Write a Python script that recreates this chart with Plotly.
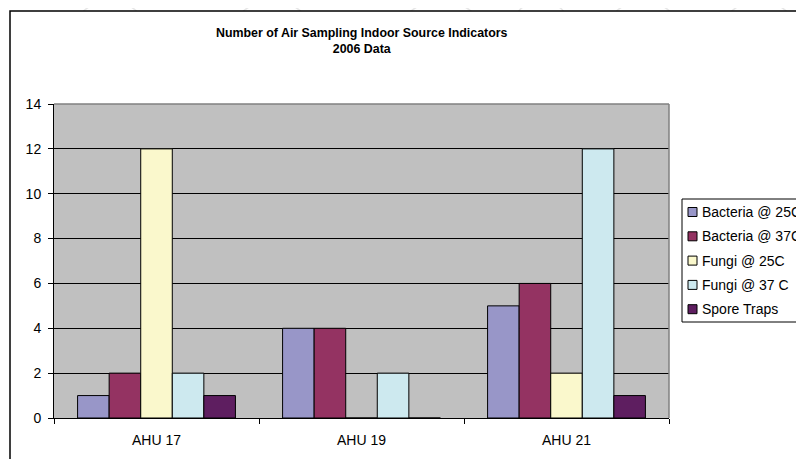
import plotly.graph_objects as go

# ---- data ----
categories = ["AHU 17", "AHU 19", "AHU 21"]
series_names = ["Bacteria @ 25C", "Bacteria @ 37C", "Fungi @ 25C", "Fungi @ 37 C", "Spore Traps"]
bacteria_25 = [1, 4, 5]
bacteria_37 = [2, 4, 6]
fungi_25 = [12, 0, 2]
fungi_37 = [2, 2, 12]
spore_traps = [1, 0, 1]
series_values = [bacteria_25, bacteria_37, fungi_25, fungi_37, spore_traps]
series_colors = ["#9896C8", "#943362", "#FAF8CC", "#CDE9EF", "#5E1E60"]
y_ticks = [0, 2, 4, 6, 8, 10, 12, 14]
title_lines = ["Number of Air Sampling Indoor Source Indicators", "2006 Data"]

# ---- layout geometry (screen pixels of the reference) ----
W, H = 804, 459
OFF = 8  # page body margin
L, R, T, B = 54, 669, 104, 418
PW, PH = R - L, B - T


def px_x(p):
    return (p - L) / PW


def px_y(p):
    return (B - p) / PH


FONT = "Liberation Sans, Arial, sans-serif"

fig = go.Figure()
for name, vals, col in zip(series_names, series_values, series_colors):
    fig.add_trace(go.Bar(
        x=categories, y=vals, name=name,
        marker=dict(color=col, line=dict(color="black", width=1)),
        showlegend=False,
    ))

shapes = []
# faint watermark arcs at the top
for cx, r in [(110, 40), (272, 46), (441, 50), (541, 30), (643, 40), (759, 42)]:
    shapes.append(dict(type="circle", xref="paper", yref="paper", layer="below",
                       x0=px_x(cx - r), x1=px_x(cx + r), y0=px_y(1 + 2 * r), y1=px_y(1),
                       line=dict(color="#E6E6E6", width=1.5), fillcolor="rgba(0,0,0,0)"))
# chart area (white with black border)
shapes.append(dict(type="rect", xref="paper", yref="paper", layer="below",
                   x0=px_x(10), x1=px_x(830), y0=px_y(480), y1=px_y(11),
                   line=dict(color="black", width=1.5), fillcolor="white"))
# plot area background
shapes.append(dict(type="rect", xref="paper", yref="paper", layer="below",
                   x0=0, x1=1, y0=0, y1=1, line=dict(width=0), fillcolor="#C0C0C0"))
# plot area border top / right (gray)
shapes.append(dict(type="line", xref="paper", yref="paper", layer="above",
                   x0=0, x1=1, y0=1, y1=1, line=dict(color="#808080", width=1.5)))
shapes.append(dict(type="line", xref="paper", yref="paper", layer="above",
                   x0=1, x1=1, y0=0, y1=1, line=dict(color="#808080", width=1.5)))
# legend box
LEG_X0, LEG_Y0, LEG_Y1 = 682, 199, 322
shapes.append(dict(type="rect", xref="paper", yref="paper", layer="above",
                   x0=px_x(LEG_X0), x1=px_x(830), y0=px_y(LEG_Y1), y1=px_y(LEG_Y0),
                   line=dict(color="black", width=1), fillcolor="white"))

annotations = []
row0, step = 212, 24.3
for i, (name, col) in enumerate(zip(series_names, series_colors)):
    yc = row0 + i * step
    shapes.append(dict(type="rect", xref="paper", yref="paper", layer="above",
                       x0=px_x(688), x1=px_x(697), y0=px_y(yc + 4.5), y1=px_y(yc - 4.5),
                       line=dict(color="black", width=1), fillcolor=col))
    annotations.append(dict(xref="paper", yref="paper", x=px_x(700), y=px_y(yc),
                            xanchor="left", yanchor="middle", showarrow=False,
                            text=name, font=dict(family=FONT, size=14, color="black")))

annotations.append(dict(xref="paper", yref="paper", x=px_x(362), y=px_y(40.5),
                        xanchor="center", yanchor="middle", showarrow=False,
                        text="<b>" + "<br>".join(title_lines) + "</b>",
                        font=dict(family=FONT, size=12.4, color="black")))

fig.update_layout(
    width=W, height=H,
    margin=dict(l=L - OFF, r=W - (R - OFF), t=T - OFF, b=H - (B - OFF), pad=0),
    paper_bgcolor="white", plot_bgcolor="#C0C0C0",
    barmode="group", bargap=0.23, bargroupgap=0,
    font=dict(family=FONT, size=14, color="black"),
    shapes=shapes, annotations=annotations,
    showlegend=False,
)
fig.update_xaxes(
    type="category", showline=True, linecolor="black", linewidth=1,
    ticks="outside", ticklen=5, tickcolor="black", tickson="boundaries",
    showgrid=False, ticklabelstandoff=9,
    tickfont=dict(family=FONT, size=14, color="black"),
)
fig.update_yaxes(
    range=[0, 14], tickvals=y_ticks, showline=True, linecolor="black", linewidth=1,
    ticks="outside", ticklen=5, tickcolor="black",
    showgrid=True, gridcolor="black", gridwidth=1, zeroline=False,
    ticklabelstandoff=4,
    tickfont=dict(family=FONT, size=14, color="black"),
)

fig.write_html("out.html")
